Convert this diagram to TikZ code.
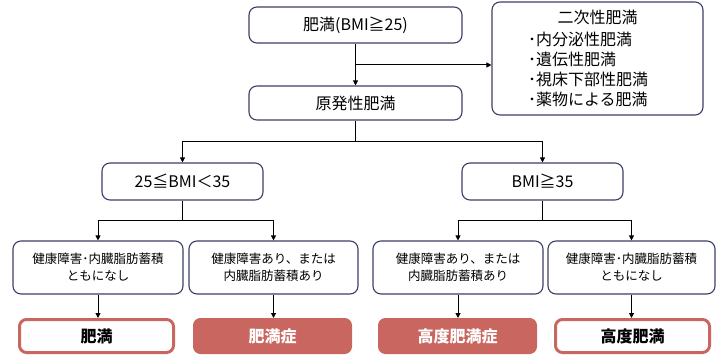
\documentclass[tikz,border=0pt]{standalone}
\usepackage{fontspec}
\setmainfont{Noto Sans CJK JP}
\usetikzlibrary{arrows.meta}
\definecolor{navy}{HTML}{3C3F66}
\definecolor{rosered}{HTML}{C8665F}
\tikzset{
  box/.style={draw=navy, line width=1.1pt, rounded corners=8pt, fill=white, inner sep=2pt, align=center},
  lvone/.style={box, font=\fontsize{16}{19}\selectfont},
  lvthree/.style={box, font=\fontsize{12.5}{17}\selectfont, minimum height=53pt},
  outres/.style={draw=rosered, line width=3pt, rounded corners=7pt, fill=white, minimum width=154pt, minimum height=33pt, font=\bfseries\fontsize{16}{18}\selectfont},
  fillres/.style={draw=rosered, fill=rosered, line width=1pt, rounded corners=7pt, text=white, minimum width=158pt, minimum height=35pt, font=\bfseries\fontsize{16}{18}\selectfont},
  conn/.style={line width=1pt, black},
  arr/.style={conn, -{Triangle[length=5pt,width=5pt]}}
}
\begin{document}
\begin{tikzpicture}[x=1pt,y=-1pt]
\useasboundingbox (0,0) rectangle (717,358);
\node[lvone, minimum width=213pt, minimum height=36pt] (top) at (355.5,25) {肥満(BMI≧25)};
\node[box, minimum width=211pt, minimum height=113pt] (sec) at (597.5,58.5) {};
\node[font=\fontsize{16}{20}\selectfont, anchor=center] (sectitle) at (597.5,17) {二次性肥満};
\node[font=\fontsize{16}{20}\selectfont, align=left, anchor=north west, inner sep=0pt] (seclist) at (528,32) {･内分泌性肥満\\･遺伝性肥満\\･視床下部性肥満\\･薬物による肥満};
\node[lvone, minimum width=213pt, minimum height=34pt] (gen) at (355.5,103) {原発性肥満};
\node[lvone, minimum width=161pt, minimum height=37pt] (b1) at (182.5,181.5) {25≦BMI＜35};
\node[lvone, minimum width=161pt, minimum height=37pt] (b2) at (542.5,181.5) {BMI≧35};
\node[lvthree, minimum width=170pt] (c1) at (98,267.5) {健康障害･内臓脂肪蓄積\\ともになし};
\node[lvthree, minimum width=169pt] (c2) at (273.5,267.5) {健康障害あり、または\\内臓脂肪蓄積あり};
\node[lvthree, minimum width=170pt] (c3) at (458,267.5) {健康障害あり、または\\内臓脂肪蓄積あり};
\node[lvthree, minimum width=167pt] (c4) at (631.5,267.5) {健康障害･内臓脂肪蓄積\\ともになし};
\node[outres] (d1) at (96.5,336) {肥満};
\node[fillres] (d2) at (272.5,336) {肥満症};
\node[fillres] (d3) at (457.5,336) {高度肥満症};
\node[outres] (d4) at (632.5,336) {高度肥満};
% connectors
\coordinate (j1) at (355.5,65);
\draw[arr] (top.south) -- (gen.north);
\draw[arr] (j1) -- (j1 -| sec.west);
\coordinate (j2) at (355.5,142);
\draw[conn] (gen.south) -- (j2);
\draw[arr] (j2) -| (b1.north);
\draw[arr] (j2) -| (b2.north);
\coordinate (j3) at (182.5,220);
\coordinate (j4) at (542.5,220);
\draw[conn] (b1.south) -- (j3);
\draw[conn] (b2.south) -- (j4);
\draw[arr] (j3) -| (c1.north);
\draw[arr] (j3) -| (c2.north);
\draw[arr] (j4) -| (c3.north);
\draw[arr] (j4) -| (c4.north);
\draw[arr] (c1.south) -- (c1.south |- d1.north);
\draw[arr] (c2.south) -- (c2.south |- d2.north);
\draw[arr] (c3.south) -- (c3.south |- d3.north);
\draw[arr] (c4.south) -- (c4.south |- d4.north);
\end{tikzpicture}
\end{document}
